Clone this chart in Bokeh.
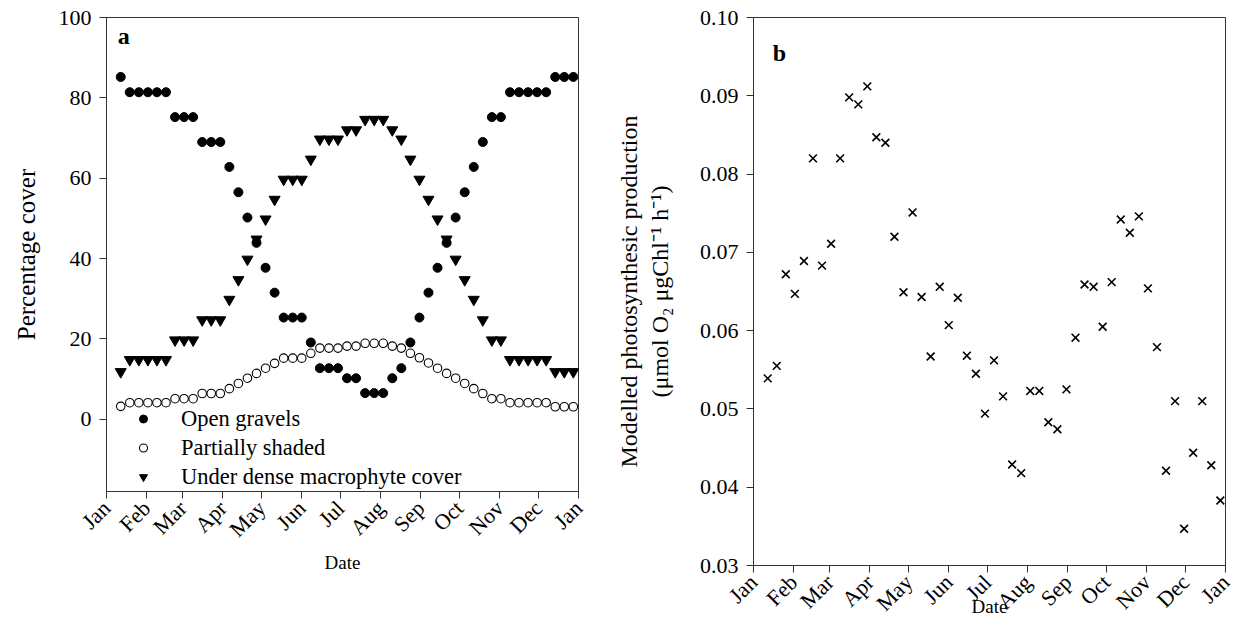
import math
from bokeh.plotting import figure
from bokeh.layouts import row, column
from bokeh.models import FixedTicker, Legend, LegendItem, Label
from bokeh.embed import file_html
from bokeh.resources import INLINE

# ---- data ----
month_days = [0, 31, 59, 90, 120, 151, 181, 212, 243, 273, 304, 334, 365]
month_labels = ["Jan", "Feb", "Mar", "Apr", "May", "Jun", "Jul", "Aug", "Sep", "Oct", "Nov", "Dec", "Jan"]

days = [11, 18, 25, 32, 39, 46, 53, 60, 67, 74, 81, 88, 95, 102, 109, 116, 123, 130,
        137, 144, 151, 158, 165, 172, 179, 186, 193, 200, 207, 214, 221, 228, 235,
        242, 249, 256, 263, 270, 277, 284, 291, 298, 305, 312, 319, 326, 333, 340,
        347, 354, 361]

open_gravels = [85.2, 81.4, 81.4, 81.4, 81.4, 81.4, 75.2, 75.2, 75.2, 69.0, 69.0, 69.0,
                62.8, 56.5, 50.2, 43.9, 37.7, 31.5, 25.3, 25.3, 25.3, 19.1, 12.7, 12.7,
                12.7, 10.2, 10.2, 6.5, 6.5, 6.5, 10.2, 12.7, 19.1, 25.3, 31.5, 37.7,
                43.9, 50.2, 56.5, 62.8, 69.0, 75.2, 75.2, 81.4, 81.4, 81.4, 81.4, 81.4,
                85.2, 85.2, 85.2]

partially_shaded = [3.2, 4.1, 4.1, 4.1, 4.1, 4.1, 5.1, 5.1, 5.1, 6.4, 6.4, 6.4,
                    7.6, 8.9, 10.2, 11.4, 12.7, 13.9, 15.2, 15.2, 15.2, 16.4, 17.7, 17.7,
                    17.7, 18.2, 18.2, 18.9, 18.9, 18.9, 18.2, 17.7, 16.4, 15.3, 14.0, 12.7,
                    11.4, 10.2, 8.9, 7.6, 6.4, 5.1, 5.1, 4.1, 4.1, 4.1, 4.1, 4.1,
                    3.1, 3.1, 3.1]

dense_cover = [11.8, 14.8, 14.8, 14.8, 14.8, 14.8, 19.7, 19.7, 19.7, 24.7, 24.7, 24.7,
               29.8, 34.7, 39.8, 44.8, 49.8, 54.7, 59.7, 59.7, 59.7, 64.7, 69.7, 69.7,
               69.7, 72.0, 72.0, 74.6, 74.6, 74.6, 72.0, 69.7, 64.7, 59.7, 54.7, 49.8,
               44.8, 39.8, 34.7, 29.8, 24.7, 19.7, 19.7, 14.8, 14.8, 14.8, 14.8, 14.8,
               11.8, 11.8, 11.8]

production = [0.0539, 0.0555, 0.0672, 0.0647, 0.0689, 0.0820, 0.0683, 0.0711, 0.0820, 0.0898,
              0.0889, 0.0912, 0.0847, 0.0840, 0.0720, 0.0649, 0.0751, 0.0643, 0.0567, 0.0656,
              0.0607, 0.0642, 0.0568, 0.0545, 0.0494, 0.0562, 0.0516, 0.0429, 0.0418, 0.0523,
              0.0523, 0.0483, 0.0474, 0.0525, 0.0591, 0.0659, 0.0656, 0.0605, 0.0662, 0.0742,
              0.0725, 0.0746, 0.0654, 0.0579, 0.0421, 0.0510, 0.0347, 0.0444, 0.0510, 0.0428,
              0.0383]

left_yticks = [0, 20, 40, 60, 80, 100]
right_yticks = [0.03, 0.04, 0.05, 0.06, 0.07, 0.08, 0.09, 0.10]

FONT = "Liberation Serif"
AX = "#333333"


def style(p, yticks, ylabels):
    p.xaxis.ticker = FixedTicker(ticks=month_days, minor_ticks=[])
    p.xaxis.major_label_overrides = {d: m for d, m in zip(month_days, month_labels)}
    p.yaxis.ticker = FixedTicker(ticks=yticks, minor_ticks=[])
    p.yaxis.major_label_overrides = {t: l for t, l in zip(yticks, ylabels)}
    p.xaxis.major_label_orientation = math.pi / 4
    for ax in (p.xaxis, p.yaxis):
        ax.axis_line_color = AX
        ax.major_tick_line_color = AX
        ax.major_tick_out = 7
        ax.major_tick_in = 0
        ax.minor_tick_out = 0
        ax.minor_tick_in = 0
        ax.major_label_text_font = FONT
        ax.major_label_text_font_size = "22px"
        ax.major_label_text_color = "black"
        ax.axis_label_text_font = FONT
        ax.axis_label_text_font_style = "normal"
        ax.axis_label_text_color = "black"
    p.xaxis.major_label_standoff = 6
    p.yaxis.major_label_standoff = 8
    p.xgrid.visible = False
    p.ygrid.visible = False
    p.outline_line_color = AX
    p.outline_line_width = 1
    p.background_fill_color = "white"
    p.border_fill_color = "white"


# ---- panel a ----
p1 = figure(width=588, height=621, x_range=(0, 365), y_range=(-18, 100),
            output_backend="svg", toolbar_location=None, title=None,
            min_border_left=106, min_border_right=10, min_border_top=17, min_border_bottom=130)
style(p1, left_yticks, [str(t) for t in left_yticks])
p1.xaxis.axis_label = "Date"
p1.xaxis.axis_label_text_font_size = "19px"
p1.xaxis.axis_label_standoff = -2
p1.yaxis.axis_label = "Percentage cover"
p1.yaxis.axis_label_text_font_size = "25px"
p1.yaxis.axis_label_standoff = 16

r_open = p1.scatter(days, open_gravels, marker="circle", size=9,
                    fill_color="black", line_color="black")
r_part = p1.scatter(days, partially_shaded, marker="circle", size=8.5,
                    fill_color="white", line_color="black", line_width=1.1)
r_dense = p1.scatter(days, dense_cover, marker="inverted_triangle", size=11,
                     fill_color="black", line_color="black")

legend = Legend(items=[LegendItem(label="Open gravels", renderers=[r_open]),
                       LegendItem(label="Partially shaded", renderers=[r_part]),
                       LegendItem(label="Under dense macrophyte cover", renderers=[r_dense])],
                location=(27, 0), label_text_font=FONT, label_text_font_size="22.5px",
                label_text_color="black",
                glyph_width=20, glyph_height=29, label_height=29, spacing=0,
                padding=0, margin=0, label_standoff=28,
                border_line_color=None, background_fill_alpha=0)
p1.add_layout(legend)

p1.add_layout(Label(x=8.7, y=95.5, text="a", text_font=FONT, text_font_size="24px",
                    text_color="black", text_font_style="bold", text_baseline="alphabetic"))

# ---- panel b ----
p2 = figure(width=653, height=621, x_range=(0, 365), y_range=(0.03, 0.10),
            output_backend="svg", toolbar_location=None, title=None,
            min_border_left=165, min_border_right=16, min_border_top=17, min_border_bottom=56)
style(p2, right_yticks, ["%.2f" % t for t in right_yticks])
p2.xaxis.axis_label = "Date"
p2.xaxis.axis_label_text_font_size = "19px"
p2.xaxis.axis_label_standoff = -32
p2.yaxis.axis_label = "Modelled photosynthesic production\n(μmol O₂ μgChl⁻¹ h⁻¹)"
p2.yaxis.axis_label_text_font_size = "24px"
p2.yaxis.axis_label_standoff = 24

p2.scatter(days, production, marker="x", size=11, line_color="black", line_width=1.6)

p2.add_layout(Label(x=14.9, y=0.0955, text="b", text_font=FONT, text_font_size="24px",
                    text_color="black", text_font_style="bold", text_baseline="alphabetic"))

layout = row(column(p1), column(p2), spacing=0)
open("out.html", "w").write(file_html(layout, INLINE))
